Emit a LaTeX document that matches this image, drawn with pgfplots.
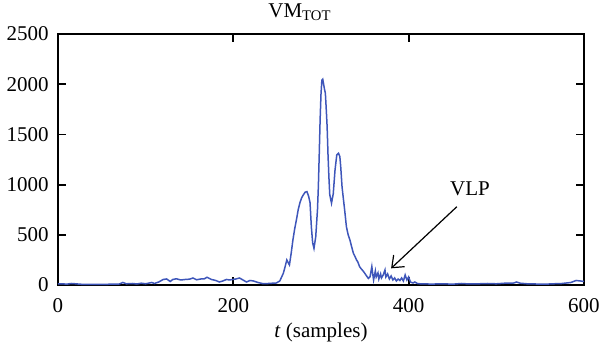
\documentclass[border=0pt]{standalone}
\usepackage{pgfplots}
\pgfplotsset{compat=1.18}
\usetikzlibrary{arrows.meta}
\usepackage{fontspec}
\setmainfont{Liberation Serif}
\definecolor{sig}{RGB}{62,86,186}
\begin{document}
\fontsize{10.5}{12}\selectfont
\begin{tikzpicture}
\useasboundingbox (-29pt,-32pt) rectangle (272pt,142.5pt);
\begin{axis}[
  at={(0,0)}, anchor=south west,
  scale only axis, width=263pt, height=125.5pt,
  xmin=0, xmax=600, ymin=0, ymax=2500,
  xtick={0,200,400,600}, ytick={0,500,1000,1500,2000,2500},
  tick align=inside, major tick length=4pt,
  tick style={line width=0.9pt, black},
  axis line style={line width=0.7pt},
  /pgf/number format/assume math mode=true,
  /pgf/number format/set thousands separator={},
  xticklabel style={yshift=-3pt},
  yticklabel style={xshift=-1pt},
  xlabel={\textit{t} (samples)},
  xlabel style={yshift=2pt},
  clip=false,
]
\addplot[sig, line width=0.75pt] coordinates {
(0,10)(5,12)(10,8)(15,15)(20,12)(25,8)(30,6)(40,5)(50,6)(60,8)(70,10)(74,25)(78,12)(85,15)(90,10)(95,18)(100,12)(107,25)(110,15)(115,30)(120,55)(124,60)(128,35)(131,55)(135,62)(140,50)(145,55)(150,58)(154,70)(158,52)(163,60)(167,62)(170,77)(175,55)(180,45)(184,30)(188,40)(192,55)(196,50)(199,55)(203,60)(207,70)(211,50)(215,30)(219,45)(223,40)(228,25)(234,13)(240,15)(245,18)(249,20)(253,40)(257,116)(259,180)(261,250)(262,232)(264,200)(266,316)(268,450)(270,560)(272,650)(274,750)(276,820)(278,870)(280,900)(282,925)(284,930)(286,880)(287.5,820)(289,580)(290.5,420)(292,365)(294,480)(296,750)(297,980)(298,1300)(299,1645)(300,1900)(301,2040)(302,2050)(303,2000)(304,1950)(305,1910)(306,1750)(307,1577)(308,1300)(309,1080)(310,900)(312,815)(314,910)(316,1145)(318,1295)(320,1312)(321.5,1280)(322.5,1180)(324,980)(325,900)(327,747)(329,580)(331,500)(333,448)(335,380)(337,315)(339,280)(340.5,250)(342,230)(344,183)(346,160)(348,140)(350,116)(352,90)(354,66)(356,83)(358,183)(359,110)(360,50)(362,140)(363,80)(365,120)(366,60)(368,110)(369,70)(371,100)(373,150)(374,80)(376,110)(378,60)(380,90)(382,50)(384,70)(386,40)(388,60)(390,45)(392,70)(394,40)(396,100)(398,50)(400,80)(402,30)(405,20)(407,30)(410,15)(415,10)(420,12)(425,8)(430,10)(440,12)(450,8)(460,15)(470,10)(480,12)(490,15)(500,12)(510,18)(520,20)(523,30)(527,18)(535,12)(545,10)(555,8)(565,12)(575,15)(585,25)(591,45)(596,40)(600,35)
};
\node[anchor=south] at (rel axis cs:0.46,1) [yshift=3pt] {VM\textsubscript{TOT}};
\node at (axis cs:470,960) {VLP};
\draw[-{Straight Barb[length=5pt,width=8pt]}, line width=0.6pt] (axis cs:455,780) -- (axis cs:380,166);
\end{axis}
\end{tikzpicture}
\end{document}
